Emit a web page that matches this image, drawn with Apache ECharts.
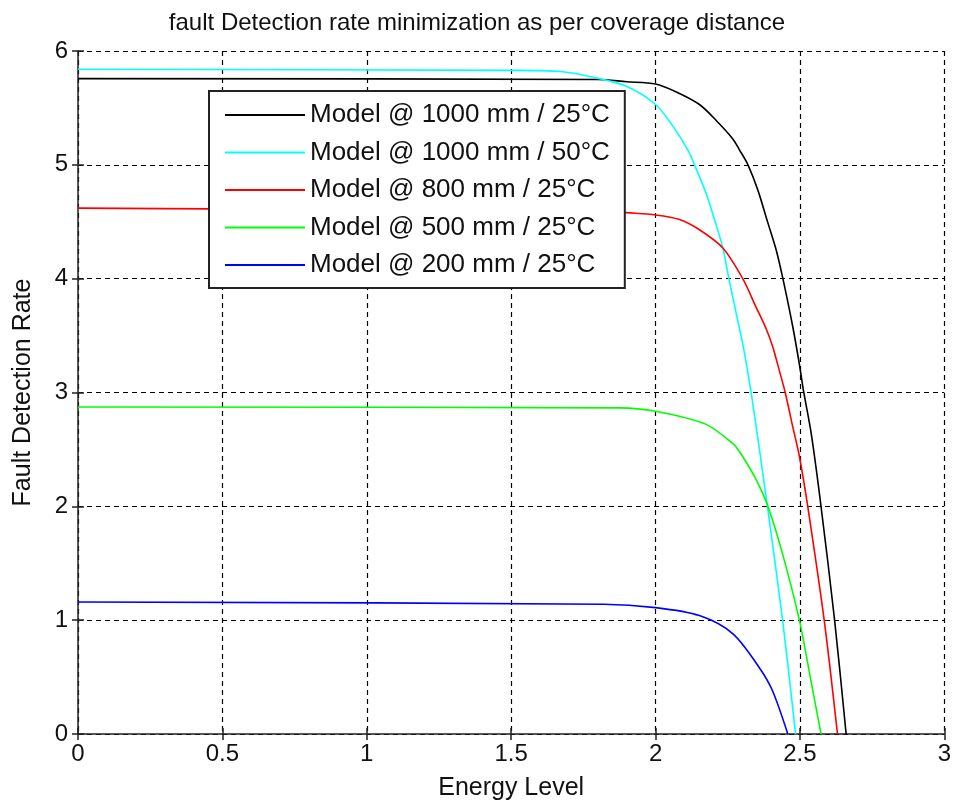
<!DOCTYPE html>
<html>
<head>
<meta charset="utf-8">
<script src="https://cdn.jsdelivr.net/npm/echarts@6/dist/echarts.min.js"></script>
<style>
  html, body { margin: 0; padding: 0; background: #fff; }
  #chart { width: 954px; height: 807px; }
</style>
</head>
<body>
<div id="chart"></div>
<script>
// series names
const names = [
  'Model @ 1000 mm / 25°C',
  'Model @ 1000 mm / 50°C',
  'Model @ 800 mm / 25°C',
  'Model @ 500 mm / 25°C',
  'Model @ 200 mm / 25°C'
];
const colors = ['#000000', '#00ffff', '#ff0000', '#00ff00', '#0000ff'];

// energy level (x) and fault detection rate (y)
const xBlack = [0, 1.8, 1.9, 2.0, 2.072, 2.152, 2.21, 2.267, 2.291, 2.32, 2.354, 2.389, 2.418, 2.441, 2.475, 2.498, 2.512, 2.539, 2.573, 2.62, 2.66];
const yBlack = [5.757, 5.75, 5.73, 5.71, 5.64, 5.53, 5.39, 5.23, 5.13, 5.0, 4.78, 4.49, 4.25, 4.0, 3.58, 3.25, 3.02, 2.64, 2.0, 1.0, 0];

const xCyan = [0, 1.5, 1.67, 1.783, 1.899, 2.0, 2.06, 2.112, 2.135, 2.175, 2.204, 2.233, 2.254, 2.279, 2.304, 2.331, 2.383, 2.44, 2.485];
const yCyan = [5.84, 5.83, 5.82, 5.77, 5.69, 5.53, 5.34, 5.13, 5.0, 4.75, 4.52, 4.27, 4.0, 3.70, 3.40, 3.0, 2.08, 1.0, 0];

const xRed = [0, 1.85, 1.9, 2.0, 2.083, 2.152, 2.233, 2.302, 2.348, 2.383, 2.406, 2.429, 2.449, 2.475, 2.498, 2.527, 2.584, 2.63];
const yRed = [4.62, 4.59, 4.58, 4.56, 4.52, 4.43, 4.27, 4.0, 3.75, 3.56, 3.40, 3.19, 3.0, 2.70, 2.44, 2.0, 1.0, 0];

const xGreen = [0, 1.875, 2.0, 2.175, 2.268, 2.291, 2.343, 2.389, 2.44, 2.498, 2.538, 2.573];
const yGreen = [2.873, 2.865, 2.835, 2.72, 2.55, 2.48, 2.26, 2.0, 1.58, 1.0, 0.47, 0];

const xBlue = [0, 1.82, 2.0, 2.152, 2.268, 2.36, 2.405, 2.458];
const yBlue = [1.16, 1.14, 1.11, 1.04, 0.88, 0.58, 0.38, 0];

const xs = [xBlack, xCyan, xRed, xGreen, xBlue];
const ys = [yBlack, yCyan, yRed, yGreen, yBlue];

const font = 'Liberation Sans, Arial, sans-serif';

let myChart = echarts.init(document.getElementById('chart'));

let gridLine = { show: true, lineStyle: { color: '#000', width: 1.2, type: [5, 4] } };

let option = {
  backgroundColor: '#fff',
  animation: false,
  title: {
    text: 'fault Detection rate minimization as per coverage distance',
    left: 'center',
    top: 6,
    textStyle: { fontFamily: font, fontSize: 24, fontWeight: 'normal', color: '#111' }
  },
  legend: {
    orient: 'vertical',
    left: 209,
    top: 91,
    data: names,
    icon: 'rect',
    backgroundColor: '#fff',
    borderColor: '#222',
    borderWidth: 2,
    borderRadius: 0,
    padding: [11, 15, 10, 16],
    itemWidth: 80,
    itemHeight: 2,
    itemGap: 11.5,
    textStyle: { fontFamily: font, fontSize: 26, lineHeight: 26, color: '#111' }
  },
  grid: { left: 78, right: 9, top: 51, bottom: 73 },
  xAxis: [
    {
      type: 'value', min: 0, max: 3, interval: 0.5,
      name: 'Energy Level', nameLocation: 'middle', nameGap: 42,
      nameTextStyle: { fontFamily: font, fontSize: 25, color: '#111' },
      axisLine: { show: true, onZero: false, lineStyle: { color: '#222', width: 1.5 } },
      axisTick: { show: true, inside: true, length: 6, lineStyle: { color: '#222', width: 1.5 } },
      axisLabel: { fontFamily: font, fontSize: 24, color: '#111', margin: 8 },
      splitLine: gridLine
    },
    {
      type: 'value', min: 0, max: 3, interval: 0.5, position: 'top',
      axisLine: { show: false },
      axisTick: { show: true, inside: true, length: 6, lineStyle: { color: '#222', width: 1.5 } },
      axisLabel: { show: false },
      splitLine: { show: false }
    }
  ],
  yAxis: [
    {
      type: 'value', min: 0, max: 6, interval: 1,
      name: 'Fault Detection Rate', nameLocation: 'middle', nameGap: 42,
      nameTextStyle: { fontFamily: font, fontSize: 25, color: '#111' },
      axisLine: { show: true, onZero: false, lineStyle: { color: '#222', width: 1.5 } },
      axisTick: { show: true, inside: true, length: 6, lineStyle: { color: '#222', width: 1.5 } },
      axisLabel: { fontFamily: font, fontSize: 24, color: '#111', margin: 10 },
      splitLine: gridLine
    },
    {
      type: 'value', min: 0, max: 6, interval: 1, position: 'right',
      axisLine: { show: false },
      axisTick: { show: true, inside: true, length: 6, lineStyle: { color: '#222', width: 1.5 } },
      axisLabel: { show: false },
      splitLine: { show: false }
    }
  ],
  series: names.map(function (n, i) {
    return {
      name: n,
      type: 'line',
      xAxisIndex: 0,
      yAxisIndex: 0,
      symbol: 'none',
      smooth: 0.3,
      color: colors[i],
      lineStyle: { color: colors[i], width: 1.6 },
      data: xs[i].map(function (x, k) { return [x, ys[i][k]]; })
    };
  })
};

myChart.setOption(option);
</script>
</body>
</html>
